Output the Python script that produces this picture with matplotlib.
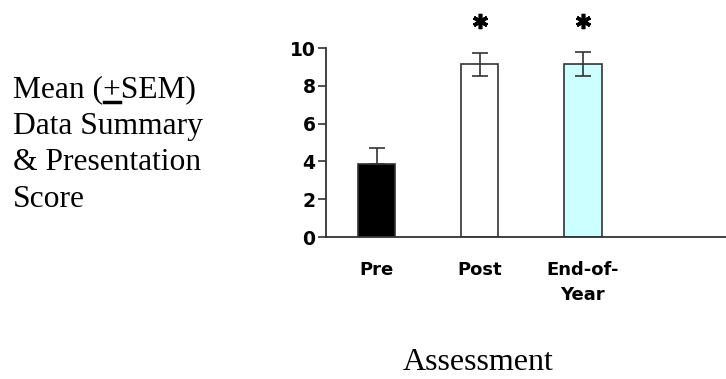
import matplotlib.pyplot as plt
import numpy as np

# data
groups = ['Pre', 'Post', 'End-of-\nYear']
means = [3.85, 9.14, 9.14]
sem_lower = [0.0, 0.62, 0.62]
sem_upper = [0.88, 0.60, 0.65]
significant = [False, True, True]
bar_colors = ['black', 'white', '#ccffff']
yticks = [0, 2, 4, 6, 8, 10]
ylabel_lines = ['Mean (+SEM)', 'Data Summary', '& Presentation', 'Score']

W, H = 726, 379
fig = plt.figure(figsize=(W / 100, H / 100), dpi=100)
ax = fig.add_axes([326 / W, 1 - 237 / H, 1 - 326 / W, (237 - 48) / H])

x = np.arange(len(groups))
ax.bar(x, means, width=0.365, color=bar_colors, edgecolor='#333333',
       linewidth=1.2, zorder=2)
ax.errorbar(x, means, yerr=[sem_lower, sem_upper], fmt='none',
            ecolor='#333333', elinewidth=1.2, capsize=5.5, capthick=1.2,
            zorder=3)

# significance asterisks above the bars
for i, sig in enumerate(significant):
    if sig:
        ax.plot(x[i], 11.45, marker=(6, 2, 0), ms=11, mew=2.6,
                color='black', clip_on=False)

ax.set_xlim(-0.49, 3.39)
ax.set_ylim(0, 10)
ax.set_yticks(yticks)
ax.set_yticklabels([str(t) for t in yticks], fontsize=13.5,
                   fontweight='bold', family='DejaVu Sans')
ax.set_xticks(x)
ax.set_xticklabels(groups, fontsize=13, fontweight='bold',
                   family='DejaVu Sans', linespacing=1.5)
ax.tick_params(axis='y', direction='out', length=5.5, width=1.2,
               color='#333333', pad=2)
ax.tick_params(axis='x', length=0, pad=17)

for side in ['top', 'right']:
    ax.spines[side].set_visible(False)
for side in ['left', 'bottom']:
    ax.spines[side].set_color('#333333')
    ax.spines[side].set_linewidth(1.3)

# left-hand y label, Times-style, one line each
serif = 'Liberation Serif'
baselines = [97, 134, 170, 207]
for line, yb in zip(ylabel_lines, baselines):
    fig.text(13 / W, 1 - yb / H, line, fontsize=22.7, family=serif,
             va='baseline', ha='left')

# underline the "+" in the first line
fig.canvas.draw()
r = fig.canvas.get_renderer()
probe1 = fig.text(13 / W, 0.5, 'Mean (', fontsize=22.7, family=serif)
probe2 = fig.text(13 / W, 0.5, 'Mean (+', fontsize=22.7, family=serif)
x0 = probe1.get_window_extent(r).x1
x1 = probe2.get_window_extent(r).x1
probe1.remove()
probe2.remove()
uy = 1 - 102 / H
fig.add_artist(plt.Line2D([x0 / W + 1 / W, x1 / W - 1 / W], [uy, uy],
                          transform=fig.transFigure, color='black', lw=2.5))

fig.text(478 / W, 2 / H, 'Assessment', fontsize=23, family=serif,
         ha='center', va='bottom')

fig.savefig('out.png', dpi=100)
